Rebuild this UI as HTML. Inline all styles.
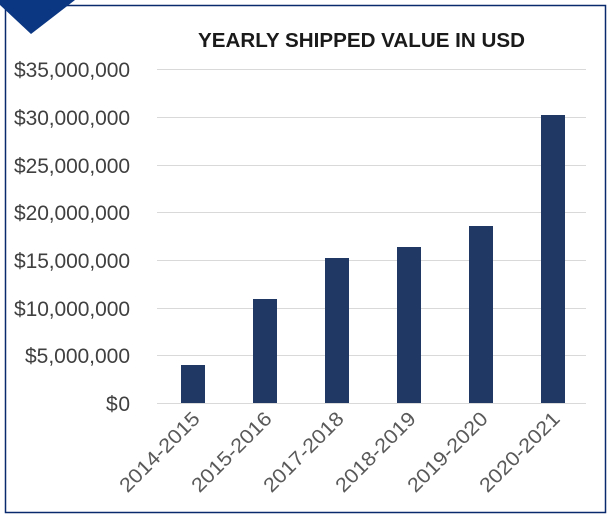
<!DOCTYPE html>
<html><head><style>
body{margin:0;background:#fff;width:611px;height:519px;overflow:hidden;font-family:"Liberation Sans",sans-serif}
</style></head><body>
<svg width="611" height="519" viewBox="0 0 611 519">
<rect x="5.5" y="5.5" width="600" height="507" fill="#fff" stroke="#0a2a6e" stroke-width="1.5"/>
<polygon points="0,0 75,0 31,34 0,5" fill="#0a3682"/>
<text x="198" y="47" textLength="327" lengthAdjust="spacingAndGlyphs" font-weight="bold" font-size="20" fill="#1a1a1a">YEARLY SHIPPED VALUE IN USD</text>
<g stroke="#d9d9d9" stroke-width="1">
<line x1="157" x2="586" y1="69.5" y2="69.5"/><line x1="157" x2="586" y1="117.5" y2="117.5"/>
<line x1="157" x2="586" y1="165.5" y2="165.5"/><line x1="157" x2="586" y1="212.5" y2="212.5"/>
<line x1="157" x2="586" y1="260.5" y2="260.5"/><line x1="157" x2="586" y1="308.5" y2="308.5"/>
<line x1="157" x2="586" y1="355.5" y2="355.5"/><line x1="157" x2="586" y1="403.5" y2="403.5"/>
</g>
<g font-size="21" fill="#404040" lengthAdjust="spacingAndGlyphs">
<text x="14" y="77" textLength="116">$35,000,000</text><text x="14" y="125" textLength="116">$30,000,000</text>
<text x="14" y="173" textLength="116">$25,000,000</text><text x="14" y="220" textLength="116">$20,000,000</text>
<text x="14" y="268" textLength="116">$15,000,000</text><text x="14" y="316" textLength="116">$10,000,000</text>
<text x="25" y="363" textLength="105">$5,000,000</text><text x="106" y="411" textLength="24">$0</text>
</g>
<g fill="#203864">
<rect x="181" y="365" width="24" height="38"/><rect x="253" y="299" width="24" height="104"/>
<rect x="325" y="258" width="24" height="145"/><rect x="397" y="247" width="24" height="156"/>
<rect x="469" y="226" width="24" height="177"/><rect x="541" y="115" width="24" height="288"/>
</g>
<g font-size="20" fill="#595959" text-anchor="end">
<text transform="translate(201,420) rotate(-45)" textLength="104" lengthAdjust="spacingAndGlyphs">2014-2015</text>
<text transform="translate(273,420) rotate(-45)" textLength="104" lengthAdjust="spacingAndGlyphs">2015-2016</text>
<text transform="translate(345,420) rotate(-45)" textLength="104" lengthAdjust="spacingAndGlyphs">2017-2018</text>
<text transform="translate(417,420) rotate(-45)" textLength="104" lengthAdjust="spacingAndGlyphs">2018-2019</text>
<text transform="translate(489,420) rotate(-45)" textLength="104" lengthAdjust="spacingAndGlyphs">2019-2020</text>
<text transform="translate(561,420) rotate(-45)" textLength="104" lengthAdjust="spacingAndGlyphs">2020-2021</text>
</g>
</svg>
</body></html>
